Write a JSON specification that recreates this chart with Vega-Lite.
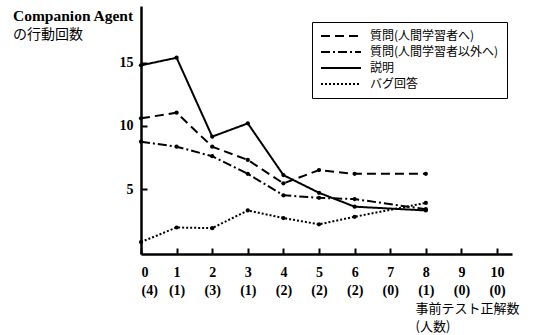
{
  "$schema": "https://vega.github.io/schema/vega-lite/v6.json",
  "autosize": {"type": "none"},
  "padding": {"left": 141, "top": 6, "right": 32, "bottom": 81},
  "width": 371,
  "height": 248,
  "background": "white",
  "title": {
    "text": "Companion Agent",
    "subtitle": "の行動回数",
    "anchor": "start",
    "frame": "group",
    "orient": "top",
    "offset": 0,
    "dx": -128,
    "dy": 36,
    "font": "Liberation Serif",
    "fontWeight": "bold",
    "fontSize": 15.5,
    "color": "black",
    "subtitleFont": "Noto Sans CJK JP",
    "subtitleFontSize": 14,
    "subtitleFontWeight": "normal",
    "subtitleColor": "black",
    "subtitlePadding": 4
  },
  "config": {
    "view": {"stroke": null},
    "axis": {
      "grid": false,
      "domainColor": "black",
      "domainWidth": 2.5,
      "tickColor": "black",
      "tickWidth": 2,
      "tickSize": -6,
      "labelColor": "black",
      "labelFont": "Liberation Serif",
      "labelFontWeight": "bold",
      "labelFontSize": 14,
      "titleColor": "black"
    }
  },
  "data": {
    "values": [
      {"x": 0, "s": "説明", "v": 14.8},
      {"x": 1, "s": "説明", "v": 15.4},
      {"x": 2, "s": "説明", "v": 9.15},
      {"x": 3, "s": "説明", "v": 10.2},
      {"x": 4, "s": "説明", "v": 6.1},
      {"x": 5, "s": "説明", "v": 4.7},
      {"x": 6, "s": "説明", "v": 3.6},
      {"x": 8, "s": "説明", "v": 3.3},
      {"x": 0, "s": "質問(人間学習者へ)", "v": 10.6},
      {"x": 1, "s": "質問(人間学習者へ)", "v": 11.05},
      {"x": 2, "s": "質問(人間学習者へ)", "v": 8.35},
      {"x": 3, "s": "質問(人間学習者へ)", "v": 7.3},
      {"x": 4, "s": "質問(人間学習者へ)", "v": 5.45},
      {"x": 5, "s": "質問(人間学習者へ)", "v": 6.5},
      {"x": 6, "s": "質問(人間学習者へ)", "v": 6.2},
      {"x": 8, "s": "質問(人間学習者へ)", "v": 6.2},
      {"x": 0, "s": "質問(人間学習者以外へ)", "v": 8.75},
      {"x": 1, "s": "質問(人間学習者以外へ)", "v": 8.35},
      {"x": 2, "s": "質問(人間学習者以外へ)", "v": 7.6},
      {"x": 3, "s": "質問(人間学習者以外へ)", "v": 6.2},
      {"x": 4, "s": "質問(人間学習者以外へ)", "v": 4.5},
      {"x": 5, "s": "質問(人間学習者以外へ)", "v": 4.3},
      {"x": 6, "s": "質問(人間学習者以外へ)", "v": 4.2},
      {"x": 8, "s": "質問(人間学習者以外へ)", "v": 3.4},
      {"x": 0, "s": "バグ回答", "v": 0.8},
      {"x": 1, "s": "バグ回答", "v": 1.95},
      {"x": 2, "s": "バグ回答", "v": 1.9},
      {"x": 3, "s": "バグ回答", "v": 3.3},
      {"x": 4, "s": "バグ回答", "v": 2.7},
      {"x": 5, "s": "バグ回答", "v": 2.2},
      {"x": 6, "s": "バグ回答", "v": 2.8},
      {"x": 8, "s": "バグ回答", "v": 3.9}
    ]
  },
  "encoding": {
    "x": {
      "field": "x",
      "type": "quantitative",
      "scale": {"domain": [0, 10.42], "nice": false},
      "axis": {
        "values": [0, 1, 2, 3, 4, 5, 6, 7, 8, 9, 10],
        "labelExpr": "[datum.label, '(' + ['4','1','3','1','2','2','2','0','1','0','0'][datum.value] + ')']",
        "labelLineHeight": 18,
        "labelPadding": 17,
        "title": ["事前テスト正解数", "(人数)"],
        "titleFont": "Noto Sans CJK JP",
        "titleFontWeight": "normal",
        "titleFontSize": 13,
        "titleAlign": "left",
        "titleBaseline": "top",
        "titleX": 274,
        "titleY": 48,
        "titleLineHeight": 18
      }
    },
    "y": {
      "field": "v",
      "type": "quantitative",
      "scale": {"domain": [-0.15, 19.5], "nice": false, "zero": false},
      "axis": {
        "values": [5, 10, 15],
        "labelPadding": 14,
        "title": null
      }
    }
  },
  "layer": [
    {
      "mark": {"type": "line", "color": "black", "strokeWidth": 2},
      "encoding": {
        "strokeDash": {
          "field": "s",
          "type": "nominal",
          "scale": {
            "domain": ["質問(人間学習者へ)", "質問(人間学習者以外へ)", "説明", "バグ回答"],
            "range": [[9, 5], [9, 3, 2, 3], [1, 0], [2, 2]]
          },
          "legend": {
            "title": null,
            "orient": "none",
            "legendX": 171,
            "legendY": 16,
            "symbolType": "M-1,0H7",
            "symbolSize": 100,
            "symbolStrokeWidth": 2,
            "symbolStrokeColor": "black",
            "rowPadding": 4,
            "labelFont": "Noto Sans CJK JP",
            "labelFontSize": 12,
            "labelColor": "black",
            "labelOffset": 38,
            "padding": 8,
            "strokeColor": "black",
            "fillColor": "white"
          }
        }
      }
    },
    {
      "mark": {"type": "point", "filled": true, "color": "black", "size": 18, "opacity": 1},
      "encoding": {"detail": {"field": "s", "type": "nominal"}}
    }
  ]
}
